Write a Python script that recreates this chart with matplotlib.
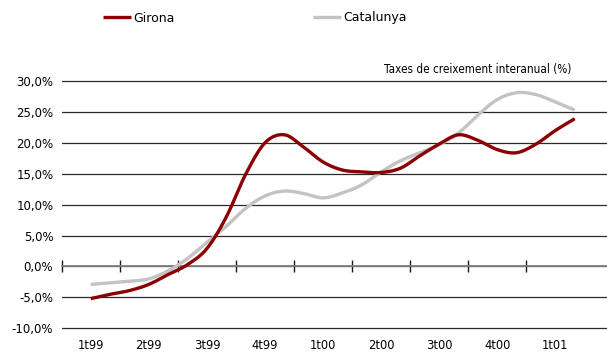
import matplotlib
matplotlib.use("Agg")
import matplotlib.pyplot as plt
import numpy as np

# Quarterly category labels (tick marks between them)
quarters = ["1t99", "2t99", "3t99", "4t99", "1t00", "2t00", "3t00", "4t00", "1t01"]

# Monthly year-on-year growth rates (%)
girona = [-5.2, -4.5, -3.9, -2.9, -1.3, 0.3, 2.9, 8.0, 14.9, 20.0, 21.3, 19.3, 16.9,
          15.6, 15.3, 15.2, 15.9, 17.9, 19.8, 21.3, 20.4, 18.9, 18.4, 19.8, 22.0, 23.9]
catalunya = [-2.9, -2.65, -2.4, -2.0, -0.7, 1.3, 3.9, 6.5, 9.4, 11.4, 12.2, 11.8, 11.1,
             11.9, 13.2, 15.3, 17.1, 18.4, 19.7, 21.6, 24.5, 27.0, 28.1, 27.8, 26.6, 25.3]

y_ticks = [-10, -5, 0, 5, 10, 15, 20, 25, 30]


def smooth(x, y, n=12):
    """Catmull-Rom curve through the points (as a smoothed line chart)."""
    x = np.asarray(x, float)
    y = np.asarray(y, float)
    px = np.concatenate([[2 * x[0] - x[1]], x, [2 * x[-1] - x[-2]]])
    py = np.concatenate([[2 * y[0] - y[1]], y, [2 * y[-1] - y[-2]]])
    xs, ys = [], []
    t = np.linspace(0, 1, n, endpoint=False)
    for i in range(1, len(px) - 2):
        for p, out in ((px, xs), (py, ys)):
            p0, p1, p2, p3 = p[i - 1], p[i], p[i + 1], p[i + 2]
            out.extend(0.5 * ((2 * p1) + (-p0 + p2) * t +
                              (2 * p0 - 5 * p1 + 4 * p2 - p3) * t ** 2 +
                              (-p0 + 3 * p1 - 3 * p2 + p3) * t ** 3))
    xs.append(x[-1])
    ys.append(y[-1])
    return np.array(xs), np.array(ys)


plt.rcParams["font.family"] = ["DejaVu Sans"]

W, H = 607, 354
fig = plt.figure(figsize=(W / 100, H / 100), dpi=100)
# plot area: x from 61.7 px to the right edge, y from 30% (81 px) to -10% (328.3 px)
px_per_pct = (328.3 - 81) / 40
y_lo, y_hi = -10.2, 30.2
top_px = 81 - (y_hi - 30) * px_per_pct
bot_px = 328.3 + (-10 - y_lo) * px_per_pct
ax = fig.add_axes([61.7 / W, 1 - bot_px / H, 1 - 61.7 / W, (bot_px - top_px) / H])

months = 0.5 + np.arange(len(girona)) / 3.0
red = "#8B0000"
grey = "#C3C3C3"

cx, cy = smooth(months, catalunya)
ax.plot(cx, cy, color=grey, lw=2.4, solid_capstyle="butt", zorder=3, label="Catalunya")
gx, gy = smooth(months, girona)
ax.plot(gx, gy, color=red, lw=2.4, solid_capstyle="butt", zorder=4, label="Girona")

ax.set_ylim(y_lo, y_hi)
ax.set_xlim(0, (W - 61.7) / 58.08)
ax.set_yticks(y_ticks)
ax.set_yticklabels([f"{v:.1f}%".replace(".", ",") for v in y_ticks], fontsize=8.5)
ax.tick_params(axis="y", length=0, pad=6)
ax.yaxis.grid(True, color="#2a2a2a", lw=0.9)
ax.set_axisbelow(True)

ax.set_xticks(np.arange(len(quarters)) + 0.5)
ax.set_xticklabels(quarters, fontsize=8.3)
ax.tick_params(axis="x", length=0, pad=7)

for s in ax.spines.values():
    s.set_visible(False)

# Category axis line with tick marks along 0%
zero_axis = ax.secondary_xaxis((0 - y_lo) / (y_hi - y_lo))
zero_axis.set_xticks(np.arange(len(quarters)))
zero_axis.set_xticklabels([])
zero_axis.tick_params(axis="x", direction="inout", length=8, width=1.0, color="#1a1a1a")
zero_axis.spines["bottom"].set_color("#808080")
zero_axis.spines["bottom"].set_linewidth(1.3)
zero_axis.set_zorder(2)

fig.text(478 / W, 1 - 70 / H, "Taxes de creixement interanual (%)",
         ha="center", va="center", fontsize=8.4, fontstretch="condensed",
         family=["DejaVu Sans"])

handles, labels = ax.get_legend_handles_labels()
fig.legend(handles[::-1], labels[::-1], loc="center left", ncol=2,
           bbox_to_anchor=(103 / W, 1 - 18 / H), frameon=False, fontsize=9,
           handlelength=2.2, handletextpad=0.2, columnspacing=11.1,
           borderpad=0, borderaxespad=0)

fig.savefig("out.png", dpi=100)
